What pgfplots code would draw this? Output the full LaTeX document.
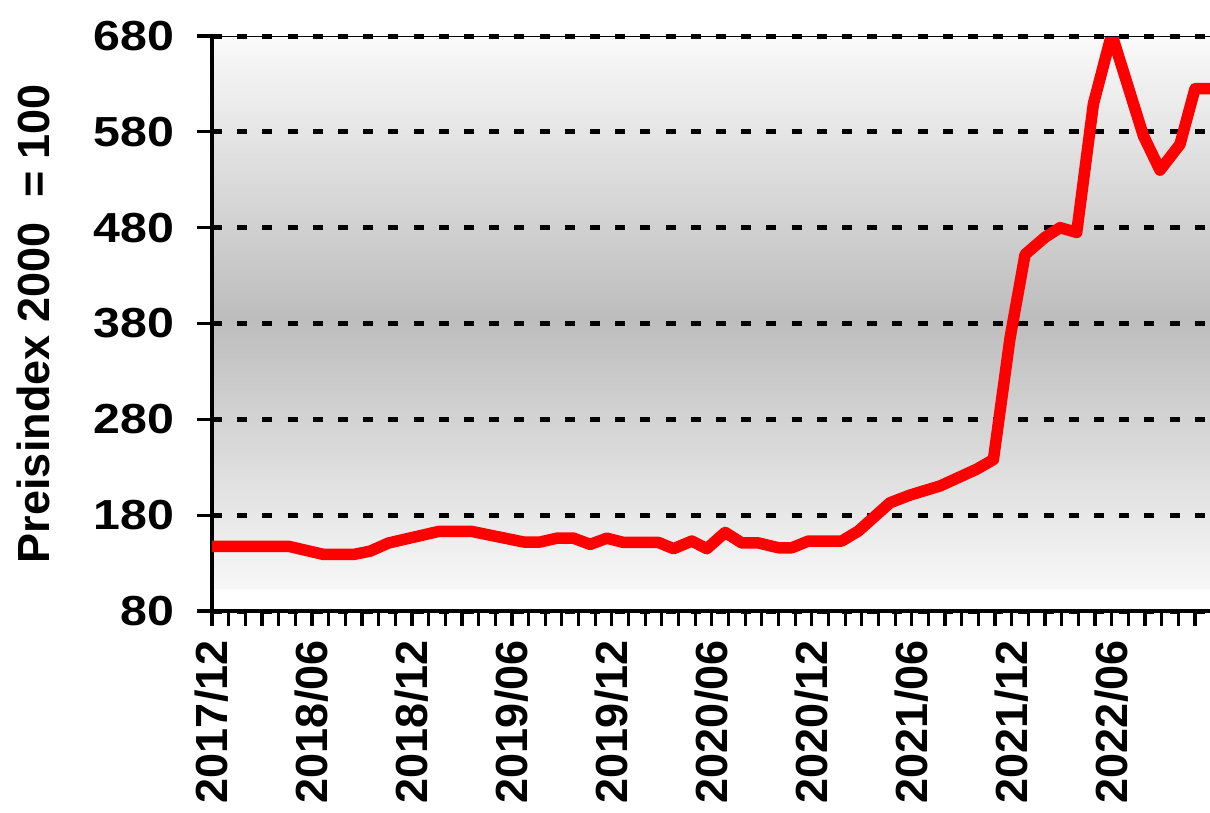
\documentclass[border=0pt]{standalone}
\usepackage{pgfplots}
\pgfplotsset{compat=1.18}
\usepackage{fontspec}
\setmainfont{Liberation Sans}
\pgfdeclareverticalshading{bgshade}{100bp}{color(0bp)=(white); color(25bp)=(white); color(26.8bp)=(white); color(27bp)=(black!3); color(50.5bp)=(black!26); color(75bp)=(black!2); color(100bp)=(black!2)}
\begin{document}
\begin{tikzpicture}
\begin{axis}[
  at={(0,0)}, anchor=south west,
  scale only axis,
  width=499pt, height=287.5pt,
  xmin=0, xmax=59.9,
  ymin=80, ymax=680,
  axis x line*=bottom,
  axis y line*=left,
  axis line style={line width=2.4pt, line cap=rect},
  axis background/.style={shade, shading=bgshade},
  xtick={0,6,...,54},
  minor xtick={0,...,59},
  xticklabels={2017/12,2018/06,2018/12,2019/06,2019/12,2020/06,2020/12,2021/06,2021/12,2022/06},
  ytick={80,180,...,680},
  tick align=outside,
  major tick length=7.5pt,
  minor tick length=7.5pt,
  every tick/.style={black, line width=1.6pt},
  minor tick style={black, line width=1.6pt},
  ymajorgrids=true,
  major grid style={black, line width=2.5pt, dash pattern=on 5pt off 7.6pt},
  /pgf/number format/assume math mode=true,
  /pgf/number format/set thousands separator={},
  xticklabel style={font=\bfseries\fontsize{22.5}{22.5}\selectfont, rotate=90, anchor=east, inner sep=0pt},
  xticklabel shift=7pt,
  yticklabel style={font=\bfseries\fontsize{21}{21}\selectfont, xscale=1.15, anchor=east, inner sep=0pt},
  yticklabel shift=11pt,
  ylabel={Preisindex 2000~~= 100},
  ylabel style={font=\bfseries\fontsize{22.5}{22.5}\selectfont, at={(axis description cs:-0.1794,0.5)}, anchor=center},
]
\addplot[red, line width=5.75pt, line join=round] coordinates {
(0,147.5) (4.6,147.5) (6.7,139) (8.5,139) (9.5,142.5) (10.6,151) (13.6,163) (15.6,163)
(18.7,152) (19.7,152) (20.7,156) (21.7,156) (22.7,149.5) (23.7,156) (24.7,151.5) (26.8,151.5)
(27.7,145) (28.8,153) (29.7,145) (30.8,162) (31.8,151) (32.8,151) (34.0,146) (34.8,146)
(35.8,153) (37.8,153) (38.8,163.5) (40.7,193) (41.9,201) (43.7,210.5) (45.9,228) (46.9,238)
(47.9,365) (48.8,452) (50.0,470) (50.9,480) (51.9,475) (52.9,609) (54.0,682) (55.9,576)
(56.9,540) (58.1,567) (59.0,625) (60.0,625)
};
\draw[black, line width=1pt] ([xshift=-7.5pt]rel axis cs:0,1) -- (rel axis cs:1,1);
\end{axis}
\pgfresetboundingbox
\useasboundingbox (-106pt,-101pt) rectangle (499pt,305.5pt);
\end{tikzpicture}
\end{document}
